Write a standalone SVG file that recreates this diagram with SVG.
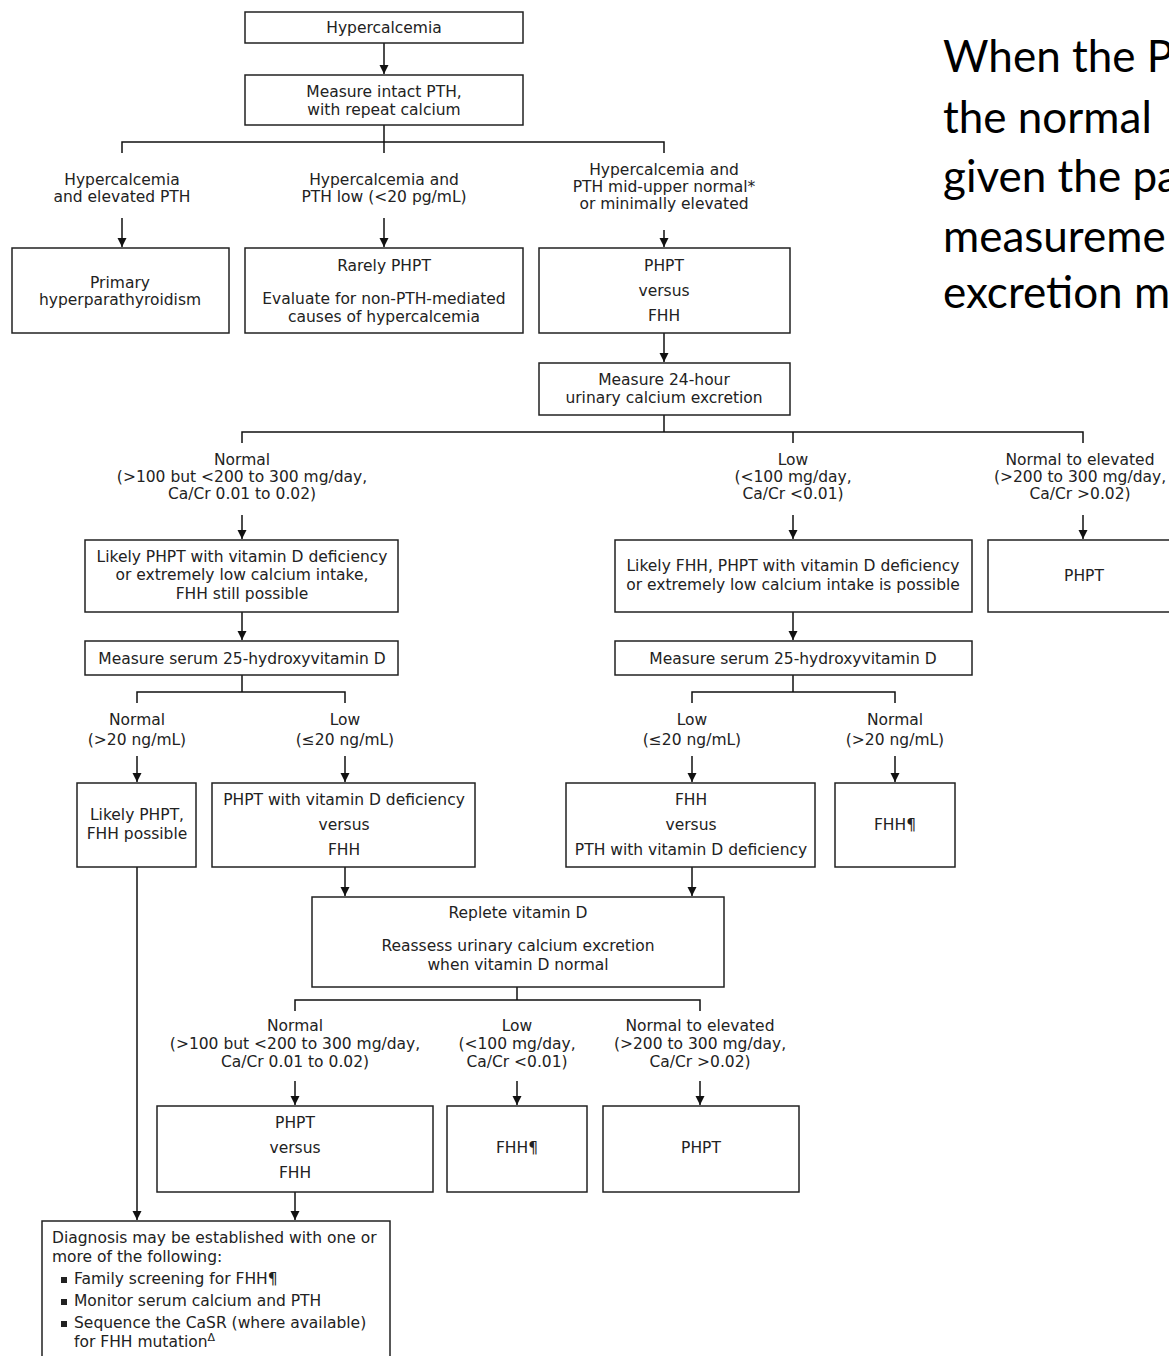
<svg xmlns="http://www.w3.org/2000/svg" width="1169" height="1356" viewBox="0 0 1169 1356">
<defs>
<marker id="ah" viewBox="0 0 10 10" refX="10" refY="5" markerWidth="9" markerHeight="11" orient="auto" markerUnits="userSpaceOnUse">
<path d="M0,0 L10,5 L0,10 z" fill="#111"/>
</marker>
<style>
.box{fill:#fff;stroke:#222;stroke-width:1.5}
.t{font-family:"DejaVu Sans",Verdana,sans-serif;font-size:15.5px;fill:#222;text-anchor:middle}
.tl{font-family:"DejaVu Sans",Verdana,sans-serif;font-size:15.5px;fill:#222}
.ln{fill:none;stroke:#111;stroke-width:1.5}
.ar{fill:none;stroke:#111;stroke-width:1.5;marker-end:url(#ah)}
.note{font-family:"Lato","Open Sans",sans-serif;font-size:44px;fill:#000}
</style>
</defs>
<rect width="1169" height="1356" fill="#fff"/>

<g id="connectors">
<line class="ar" x1="384" y1="43" x2="384" y2="74"/>
<polyline class="ln" points="384,125 384,142"/>
<polyline class="ln" points="122,153 122,142 664,142 664,153"/>
<line class="ln" x1="384" y1="142" x2="384" y2="153"/>
<line class="ar" x1="122" y1="218" x2="122" y2="247"/>
<line class="ar" x1="384" y1="218" x2="384" y2="247"/>
<line class="ar" x1="664" y1="230" x2="664" y2="247"/>
<line class="ar" x1="664" y1="333" x2="664" y2="362"/>
<polyline class="ln" points="664,415 664,432"/>
<polyline class="ln" points="242,443 242,432 1083,432 1083,443"/>
<line class="ln" x1="793" y1="432" x2="793" y2="443"/>
<line class="ar" x1="242" y1="515" x2="242" y2="539"/>
<line class="ar" x1="793" y1="515" x2="793" y2="539"/>
<line class="ar" x1="1083" y1="515" x2="1083" y2="539"/>
<line class="ar" x1="242" y1="612" x2="242" y2="640"/>
<line class="ar" x1="793" y1="612" x2="793" y2="640"/>
<polyline class="ln" points="242,675 242,692"/>
<polyline class="ln" points="137,703 137,692 345,692 345,703"/>
<polyline class="ln" points="793,675 793,692"/>
<polyline class="ln" points="692,703 692,692 895,692 895,703"/>
<line class="ar" x1="137" y1="756" x2="137" y2="782"/>
<line class="ar" x1="345" y1="756" x2="345" y2="782"/>
<line class="ar" x1="692" y1="756" x2="692" y2="782"/>
<line class="ar" x1="895" y1="756" x2="895" y2="782"/>
<line class="ar" x1="345" y1="867" x2="345" y2="896"/>
<line class="ar" x1="692" y1="867" x2="692" y2="896"/>
<polyline class="ln" points="517,987 517,1000"/>
<polyline class="ln" points="295,1011 295,1000 700,1000 700,1011"/>
<line class="ar" x1="295" y1="1081" x2="295" y2="1105"/>
<line class="ar" x1="517" y1="1081" x2="517" y2="1105"/>
<line class="ar" x1="700" y1="1081" x2="700" y2="1105"/>
<line class="ar" x1="137" y1="867" x2="137" y2="1220"/>
<line class="ar" x1="295" y1="1192" x2="295" y2="1220"/>
</g>

<g id="n-hypercalcemia">
<rect class="box" x="245" y="12" width="278" height="31"/>
<text class="t" x="384" y="33">Hypercalcemia</text>
</g>
<g id="n-measure-pth">
<rect class="box" x="245" y="75" width="278" height="50"/>
<text class="t" x="384" y="97">Measure intact PTH,</text>
<text class="t" x="384" y="115">with repeat calcium</text>
</g>

<g id="l-elevated">
<text class="t" x="122" y="185">Hypercalcemia</text>
<text class="t" x="122" y="202">and elevated PTH</text>
</g>
<g id="l-low">
<text class="t" x="384" y="185">Hypercalcemia and</text>
<text class="t" x="384" y="202">PTH low (&lt;20 pg/mL)</text>
</g>
<g id="l-mid">
<text class="t" x="664" y="175">Hypercalcemia and</text>
<text class="t" x="664" y="192">PTH mid-upper normal*</text>
<text class="t" x="664" y="209">or minimally elevated</text>
</g>

<g id="n-primary">
<rect class="box" x="12" y="248" width="217" height="85"/>
<text class="t" x="120" y="288">Primary</text>
<text class="t" x="120" y="305">hyperparathyroidism</text>
</g>
<g id="n-rarely">
<rect class="box" x="245" y="248" width="278" height="85"/>
<text class="t" x="384" y="271">Rarely PHPT</text>
<text class="t" x="384" y="304">Evaluate for non-PTH-mediated</text>
<text class="t" x="384" y="322">causes of hypercalcemia</text>
</g>
<g id="n-phpt-fhh-1">
<rect class="box" x="539" y="248" width="251" height="85"/>
<text class="t" x="664" y="271">PHPT</text>
<text class="t" x="664" y="296">versus</text>
<text class="t" x="664" y="321">FHH</text>
</g>
<g id="n-measure-24h">
<rect class="box" x="539" y="363" width="251" height="52"/>
<text class="t" x="664" y="385">Measure 24-hour</text>
<text class="t" x="664" y="403">urinary calcium excretion</text>
</g>

<g id="l-ucx-normal">
<text class="t" x="242" y="465">Normal</text>
<text class="t" x="242" y="482">(&gt;100 but &lt;200 to 300 mg/day,</text>
<text class="t" x="242" y="499">Ca/Cr 0.01 to 0.02)</text>
</g>
<g id="l-ucx-low">
<text class="t" x="793" y="465">Low</text>
<text class="t" x="793" y="482">(&lt;100 mg/day,</text>
<text class="t" x="793" y="499">Ca/Cr &lt;0.01)</text>
</g>
<g id="l-ucx-high">
<text class="t" x="1080" y="465">Normal to elevated</text>
<text class="t" x="1080" y="482">(&gt;200 to 300 mg/day,</text>
<text class="t" x="1080" y="499">Ca/Cr &gt;0.02)</text>
</g>

<g id="n-likely-phpt-vitd">
<rect class="box" x="85" y="540" width="313" height="72"/>
<text class="t" x="242" y="562">Likely PHPT with vitamin D deficiency</text>
<text class="t" x="242" y="580">or extremely low calcium intake,</text>
<text class="t" x="242" y="599">FHH still possible</text>
</g>
<g id="n-likely-fhh">
<rect class="box" x="615" y="540" width="357" height="72"/>
<text class="t" x="793" y="571">Likely FHH, PHPT with vitamin D deficiency</text>
<text class="t" x="793" y="590">or extremely low calcium intake is possible</text>
</g>
<g id="n-phpt-right">
<rect class="box" x="988" y="540" width="195" height="72"/>
<text class="t" x="1084" y="581">PHPT</text>
</g>

<g id="n-vitd-left">
<rect class="box" x="85" y="641" width="313" height="34"/>
<text class="t" x="242" y="664">Measure serum 25-hydroxyvitamin D</text>
</g>
<g id="n-vitd-right">
<rect class="box" x="615" y="641" width="357" height="34"/>
<text class="t" x="793" y="664">Measure serum 25-hydroxyvitamin D</text>
</g>

<g id="l-vitd-normal-l">
<text class="t" x="137" y="725">Normal</text>
<text class="t" x="137" y="745">(&gt;20 ng/mL)</text>
</g>
<g id="l-vitd-low-l">
<text class="t" x="345" y="725">Low</text>
<text class="t" x="345" y="745">(≤20 ng/mL)</text>
</g>
<g id="l-vitd-low-r">
<text class="t" x="692" y="725">Low</text>
<text class="t" x="692" y="745">(≤20 ng/mL)</text>
</g>
<g id="l-vitd-normal-r">
<text class="t" x="895" y="725">Normal</text>
<text class="t" x="895" y="745">(&gt;20 ng/mL)</text>
</g>

<g id="n-likely-phpt">
<rect class="box" x="77" y="783" width="119" height="84"/>
<text class="t" x="137" y="820">Likely PHPT,</text>
<text class="t" x="137" y="839">FHH possible</text>
</g>
<g id="n-phpt-vitd-fhh">
<rect class="box" x="212" y="783" width="263" height="84"/>
<text class="t" x="344" y="805">PHPT with vitamin D deficiency</text>
<text class="t" x="344" y="830">versus</text>
<text class="t" x="344" y="855">FHH</text>
</g>
<g id="n-fhh-pth-vitd">
<rect class="box" x="566" y="783" width="249" height="84"/>
<text class="t" x="691" y="805">FHH</text>
<text class="t" x="691" y="830">versus</text>
<text class="t" x="691" y="855">PTH with vitamin D deficiency</text>
</g>
<g id="n-fhh-1">
<rect class="box" x="835" y="783" width="120" height="84"/>
<text class="t" x="895" y="830">FHH¶</text>
</g>

<g id="n-replete">
<rect class="box" x="312" y="897" width="412" height="90"/>
<text class="t" x="518" y="918">Replete vitamin D</text>
<text class="t" x="518" y="951">Reassess urinary calcium excretion</text>
<text class="t" x="518" y="970">when vitamin D normal</text>
</g>

<g id="l-re-normal">
<text class="t" x="295" y="1031">Normal</text>
<text class="t" x="295" y="1049">(&gt;100 but &lt;200 to 300 mg/day,</text>
<text class="t" x="295" y="1067">Ca/Cr 0.01 to 0.02)</text>
</g>
<g id="l-re-low">
<text class="t" x="517" y="1031">Low</text>
<text class="t" x="517" y="1049">(&lt;100 mg/day,</text>
<text class="t" x="517" y="1067">Ca/Cr &lt;0.01)</text>
</g>
<g id="l-re-high">
<text class="t" x="700" y="1031">Normal to elevated</text>
<text class="t" x="700" y="1049">(&gt;200 to 300 mg/day,</text>
<text class="t" x="700" y="1067">Ca/Cr &gt;0.02)</text>
</g>

<g id="n-phpt-fhh-2">
<rect class="box" x="157" y="1106" width="276" height="86"/>
<text class="t" x="295" y="1128">PHPT</text>
<text class="t" x="295" y="1153">versus</text>
<text class="t" x="295" y="1178">FHH</text>
</g>
<g id="n-fhh-2">
<rect class="box" x="447" y="1106" width="140" height="86"/>
<text class="t" x="517" y="1153">FHH¶</text>
</g>
<g id="n-phpt-2">
<rect class="box" x="603" y="1106" width="196" height="86"/>
<text class="t" x="701" y="1153">PHPT</text>
</g>

<g id="n-diagnosis">
<rect class="box" x="42" y="1221" width="348" height="145"/>
<text class="tl" x="52" y="1243">Diagnosis may be established with one or</text>
<text class="tl" x="52" y="1262">more of the following:</text>
<rect x="61" y="1277" width="6" height="6" fill="#222"/>
<text class="tl" x="74" y="1284">Family screening for FHH¶</text>
<rect x="61" y="1299" width="6" height="6" fill="#222"/>
<text class="tl" x="74" y="1306">Monitor serum calcium and PTH</text>
<rect x="61" y="1321" width="6" height="6" fill="#222"/>
<text class="tl" x="74" y="1328">Sequence the CaSR (where available)</text>
<text class="tl" x="74" y="1347">for FHH mutation<tspan dy="-6" font-size="11">Δ</tspan></text>
</g>

<g id="note">
<text class="note" x="943" y="72">When the P</text>
<text class="note" x="943" y="133">the normal</text>
<text class="note" x="943" y="192">given the pa</text>
<text class="note" x="943" y="252">measureme</text>
<text class="note" x="943" y="308">excretion m</text>
</g>
</svg>
